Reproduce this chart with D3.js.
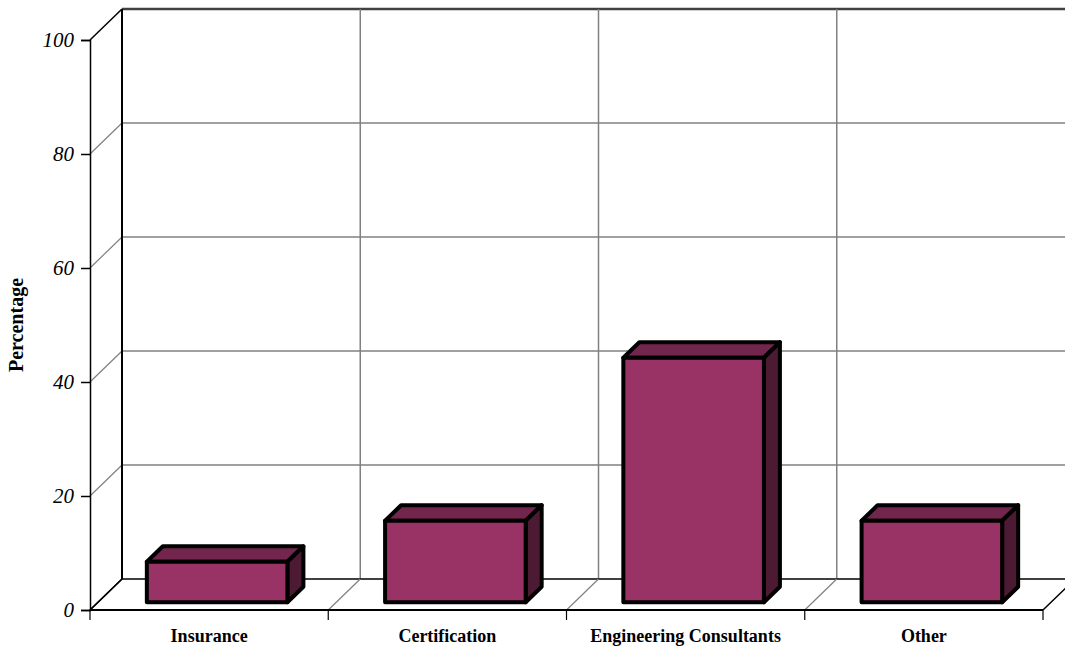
<!DOCTYPE html>
<html>
<head>
<meta charset="utf-8">
<script src="https://cdn.jsdelivr.net/npm/d3@7"></script>
<style>
	body { margin: 0; background: #fff; }
	text { font-family: "Liberation Serif", "Times New Roman", serif; }
</style>
</head>
<body>
<div id="chart-area"></div>
<script>
// data
const categories = ["Insurance", "Certification", "Engineering Consultants", "Other"];
const percentages = [7.1, 14.3, 42.9, 14.3];
const yTicks = [0, 20, 40, 60, 80, 100];

const width = 1065, height = 648;
// depth of the 3d floor (full) and where the bars sit inside it
const depthX = 32, depthY = -31;
const barFront = 0.25, barBack = 0.75;

let svg = d3.select("#chart-area").append("svg")
	.attr("width", width)
	.attr("height", height);

// scales
let x = d3.scaleBand()
	.domain(categories)
	.range([90, 1043])
	.padding(0);

let y = d3.scaleLinear()
	.domain([0, 100])
	.range([610, 40]);

const x0 = x.range()[0], x1 = x.range()[1];
const boundaries = categories.map(c => x(c)).concat([x1]);

// back wall: horizontal gridlines + diagonals on side wall
yTicks.forEach(v => {
	let edge = (v === 0 || v === 100);
	svg.append("line")
		.attr("x1", x0).attr("y1", y(v))
		.attr("x2", x0 + depthX).attr("y2", y(v) + depthY)
		.attr("stroke", edge ? "#000" : "#808080")
		.attr("stroke-width", edge ? 1.5 : 1.2);
	if (v > 0) {
		svg.append("line")
			.attr("x1", x0 + depthX).attr("y1", y(v) + depthY)
			.attr("x2", width).attr("y2", y(v) + depthY)
			.attr("stroke", v === 100 ? "#404040" : "#808080")
			.attr("stroke-width", v === 100 ? 2.5 : 1.5);
	}
});

// back wall vertical gridlines
boundaries.slice(1, -1).forEach(b => {
	svg.append("line")
		.attr("x1", b + depthX).attr("y1", y(100) + depthY)
		.attr("x2", b + depthX).attr("y2", y(0) + depthY)
		.attr("stroke", "#808080")
		.attr("stroke-width", 1.5);
});

// back wall left edge
svg.append("line")
	.attr("x1", x0 + depthX).attr("y1", y(100) + depthY)
	.attr("x2", x0 + depthX).attr("y2", y(0) + depthY)
	.attr("stroke", "#000")
	.attr("stroke-width", 2);

// floor back line
svg.append("line")
	.attr("x1", x0 + depthX).attr("y1", y(0) + depthY)
	.attr("x2", width).attr("y2", y(0) + depthY)
	.attr("stroke", "#000")
	.attr("stroke-width", 1.5);

// floor diagonals
boundaries.forEach((b, i) => {
	let edge = (i === 0 || i === boundaries.length - 1);
	svg.append("line")
		.attr("x1", b).attr("y1", y(0))
		.attr("x2", b + depthX).attr("y2", y(0) + depthY)
		.attr("stroke", edge ? "#000" : "#808080")
		.attr("stroke-width", edge ? 1.5 : 1.2);
	// category tick
	svg.append("line")
		.attr("x1", b).attr("y1", y(0))
		.attr("x2", b).attr("y2", y(0) + 10)
		.attr("stroke", "#000")
		.attr("stroke-width", 1.2);
});

// front floor edge
svg.append("line")
	.attr("x1", x0).attr("y1", y(0))
	.attr("x2", x1).attr("y2", y(0))
	.attr("stroke", "#000")
	.attr("stroke-width", 2);

// y axis
let yAxis = d3.axisLeft(y)
	.tickValues(yTicks)
	.tickSize(9)
	.tickPadding(7);

let yg = svg.append("g")
	.attr("transform", "translate(" + x0 + ",0)")
	.call(yAxis);
yg.select(".domain").attr("stroke", "#000").attr("stroke-width", 1.5);
yg.selectAll(".tick line").attr("stroke", "#000").attr("stroke-width", 1.5);
yg.selectAll(".tick text")
	.attr("font-family", "Liberation Serif")
	.attr("font-style", "italic")
	.attr("font-size", 21)
	.attr("fill", "#000");

// y axis title
svg.append("text")
	.attr("transform", "translate(23,325) rotate(-90)")
	.attr("text-anchor", "middle")
	.attr("font-weight", "bold")
	.attr("font-size", 20)
	.text("Percentage");

// bars
const barW = x.bandwidth() * 0.59;
const pt = (px, v, f) => [px + depthX * f, y(v) + depthY * f];

let bars = svg.selectAll(".bar")
	.data(categories.map((c, i) => ({ cat: c, val: percentages[i] })))
	.enter()
	.append("g")
	.attr("class", "bar");

bars.each(function(d) {
	let g = d3.select(this);
	let left = x(d.cat) + (x.bandwidth() - barW) / 2;
	let right = left + barW;
	let a = pt(left, d.val, barFront), b = pt(right, d.val, barFront);
	let c = pt(right, 0, barFront), e = pt(left, 0, barFront);
	let ab = pt(left, d.val, barBack), bb = pt(right, d.val, barBack);
	let cb = pt(right, 0, barBack);
	let line = d3.line();
	let style = sel => sel
		.attr("stroke", "#000")
		.attr("stroke-width", 4)
		.attr("stroke-linejoin", "round");

	// top face
	g.append("path").attr("d", line([a, b, bb, ab]) + "Z")
		.attr("fill", "#73264d").call(style);
	// side face
	g.append("path").attr("d", line([b, bb, cb, c]) + "Z")
		.attr("fill", "#4d1a33").call(style);
	// front face
	g.append("path").attr("d", line([a, b, c, e]) + "Z")
		.attr("fill", "#993366").call(style);
});

// category labels
svg.selectAll(".cat-label")
	.data(categories)
	.enter()
	.append("text")
	.attr("class", "cat-label")
	.attr("x", d => x(d) + x.bandwidth() / 2)
	.attr("y", 642)
	.attr("text-anchor", "middle")
	.attr("font-weight", "bold")
	.attr("font-size", 18)
	.text(d => d);
</script>
</body>
</html>
